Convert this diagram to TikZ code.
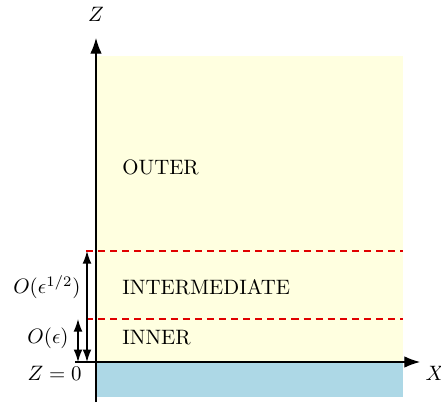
\documentclass[tikz,border=0pt]{standalone}
\usetikzlibrary{arrows.meta}
\definecolor{regionyellow}{HTML}{FFFFE0}
\definecolor{regionblue}{HTML}{ADD8E6}
\definecolor{dashred}{HTML}{E00000}
\tikzset{
  axis/.style={line width=0.6pt,-{Latex[length=7.5pt,width=5.5pt]}},
  scalearrow/.style={line width=0.6pt,{Latex[length=6pt,width=4.2pt]}-{Latex[length=6pt,width=4.2pt]}},
  boundary/.style={draw=dashred,line width=0.6pt,dash pattern=on 3.4pt off 2.4pt},
  region/.style={anchor=west,inner sep=0pt},
  lbl/.style={anchor=east,inner sep=0pt}
}
\begin{document}
\begin{tikzpicture}[x=0.48pt,y=-0.48pt]
\useasboundingbox (0,0) rectangle (441,407);
\fill[regionyellow] (96,56) rectangle (403,362);
\fill[regionblue] (96,362) rectangle (403,397);
\coordinate (zb) at (96,402);
\coordinate (zt) at (96,38);
\coordinate (xl) at (75,362);
\coordinate (xr) at (420,362);
\draw[boundary] (86,251) -- (403,251);
\draw[boundary] (86,319) -- (403,319);
\draw[axis] (zb) -- (zt);
\draw[axis] (xl) -- (xr);
\coordinate (a1) at (87,362);
\coordinate (a2) at (87,251);
\coordinate (b1) at (78,362);
\coordinate (b2) at (78,319);
\draw[scalearrow] (a1) -- (a2);
\draw[scalearrow] (b1) -- (b2);
\node (zl) at (96,14) {$Z$};
\node (xlab) at (435,373) {$X$};
\node[region] (outer) at (122,167) {OUTER};
\node[region] (inter) at (122,287) {INTERMEDIATE};
\node[region] (inner) at (122,338) {INNER};
\node[lbl] (oh) at (81,287) {$O(\epsilon^{1/2})$};
\node[lbl] (oe) at (69,338) {$O(\epsilon)$};
\node[lbl] (z0) at (82,373) {$Z=0$};
\end{tikzpicture}
\end{document}
